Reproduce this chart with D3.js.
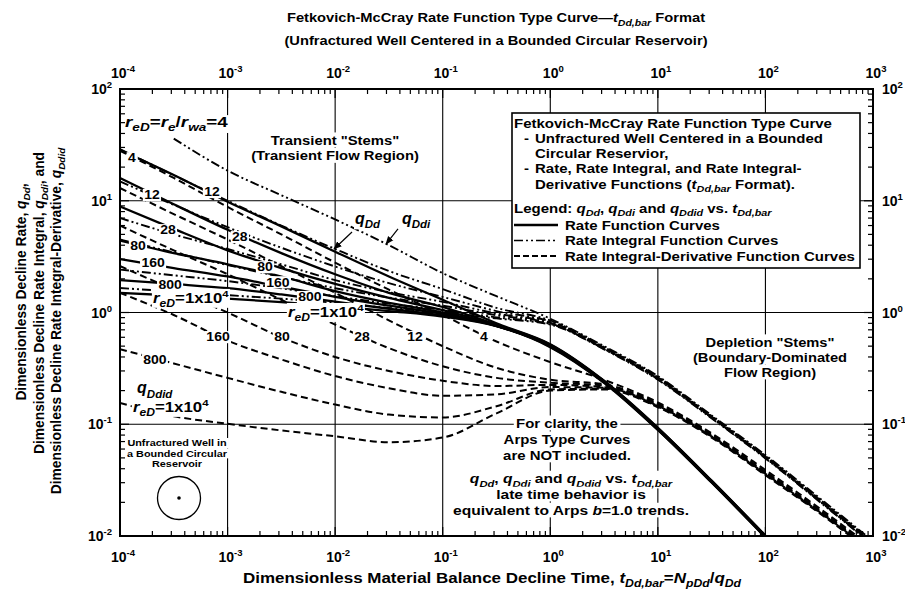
<!DOCTYPE html>
<html>
<head>
<meta charset="utf-8">
<script src="https://cdn.jsdelivr.net/npm/d3@7"></script>
<style>
  html, body { margin: 0; padding: 0; background: #fff; }
  svg { display: block; font-family: "Liberation Sans", Arial, Helvetica, sans-serif; font-weight: bold; }
</style>
</head>
<body>
<svg id="chart" width="905" height="595"></svg>
<script>
// Dimensionless material balance time grid, t_Dd,bar
const tGrid = [1e-4, 3.16e-4, 1e-3, 3.16e-3, 1e-2, 3.16e-2, 0.1, 0.316, 1, 3.16, 10, 31.6, 100, 316, 1000];

// Rate function q_Dd for reD = 4, 12, 28, 80, 160, 800, 1e4
const rate4   = [28.5, 17, 9.8, 5.9, 3.5, 2.1, 1.3, 0.80, 0.52, 0.245, 0.093, 0.0313, 0.0101];
const rate12  = [16, 9.3, 5.5, 3.4, 2.2, 1.5, 1.12, 0.78, 0.515, 0.243, 0.0923, 0.0311, 0.01];
const rate28  = [8.9, 5.6, 3.6, 2.5, 1.8, 1.35, 1.05, 0.77, 0.51, 0.242, 0.0916, 0.0309, 0.01];
const rate80  = [4.4, 3.4, 2.7, 2.1, 1.55, 1.22, 1.0, 0.76, 0.505, 0.24, 0.0909, 0.0307, 0.0099];
const rate160 = [3.0, 2.5, 2.1, 1.7, 1.38, 1.15, 0.97, 0.76, 0.5, 0.239, 0.0902, 0.0305, 0.0099];
const rate800 = [1.95, 1.8, 1.65, 1.45, 1.25, 1.08, 0.94, 0.76, 0.495, 0.237, 0.0895, 0.0303, 0.0098];
const rate1e4 = [1.5, 1.42, 1.33, 1.24, 1.14, 1.03, 0.92, 0.755, 0.49, 0.235, 0.089, 0.0301, 0.0097];

// Rate integral function q_Ddi
const integ4   = [null, 36, 18.6, 11.2, 6.8, 4.0, 2.25, 1.4, 0.88, 0.5, 0.27, 0.12, 0.053, 0.022, 0.009];
const integ12  = [29, 16.9, 10, 6.0, 3.7, 2.35, 1.62, 1.1, 0.85, 0.49, 0.265, 0.118, 0.052, 0.0215, 0.0088];
const integ28  = [14.9, 9.2, 5.8, 3.8, 2.58, 1.83, 1.38, 1.03, 0.83, 0.485, 0.262, 0.117, 0.0515, 0.0212, 0.0087];
const integ80  = [7.0, 5.0, 3.7, 2.7, 1.95, 1.52, 1.245, 0.98, 0.81, 0.48, 0.259, 0.116, 0.051, 0.021, 0.0086];
const integ160 = [4.5, 3.45, 2.66, 2.08, 1.65, 1.36, 1.15, 0.945, 0.8, 0.476, 0.256, 0.115, 0.0505, 0.0208, 0.0085];
const integ800 = [2.42, 2.15, 1.91, 1.645, 1.4, 1.2, 1.055, 0.905, 0.79, 0.472, 0.253, 0.114, 0.05, 0.0206, 0.0084];
const integ1e4 = [1.655, 1.54, 1.43, 1.33, 1.22, 1.1, 0.996, 0.885, 0.78, 0.468, 0.25, 0.113, 0.0495, 0.0204, 0.0083];

// Rate integral-derivative function q_Ddid
const deriv4   = [28, 16, 8.8, 5.0, 2.8, 1.6, 0.95, 0.55, 0.36, 0.25, 0.157, 0.083, 0.039, 0.0178, 0.0078];
const deriv12  = [13, 7.6, 4.5, 2.6, 1.5, 0.85, 0.5, 0.32, 0.25, 0.228, 0.153, 0.081, 0.0375, 0.0172, 0.0075];
const deriv28  = [6.0, 3.6, 2.2, 1.3, 0.78, 0.48, 0.33, 0.26, 0.235, 0.222, 0.15, 0.0795, 0.037, 0.0169, 0.0074];
const deriv80  = [2.6, 1.6, 1.0, 0.6, 0.4, 0.3, 0.245, 0.22, 0.225, 0.215, 0.148, 0.079, 0.0365, 0.0167, 0.0073];
const deriv160 = [1.5, 0.95, 0.56, 0.38, 0.27, 0.21, 0.18, 0.185, 0.215, 0.212, 0.146, 0.078, 0.036, 0.0165, 0.0072];
const deriv800 = [0.47, 0.35, 0.26, 0.195, 0.15, 0.122, 0.115, 0.145, 0.205, 0.208, 0.144, 0.077, 0.0355, 0.0163, 0.0071];
const deriv1e4 = [0.155, 0.118, 0.101, 0.088, 0.078, 0.069, 0.076, 0.125, 0.2, 0.205, 0.142, 0.076, 0.035, 0.0161, 0.007];

// Axis decades
const xDecades = [-4, -3, -2, -1, 0, 1, 2, 3];
const yDecades = [-2, -1, 0, 1, 2];

// Curve labels: [text, t, q]
const rateLabels  = [["4", 1.29e-4, 24.1], ["12", 1.98e-4, 11.3], ["28", 2.79e-4, 5.47],
                     ["80", 1.47e-4, 4.0], ["160", 2.03e-4, 2.77], ["800", 2.92e-4, 1.76]];
const integLabels = [["12", 7.16e-4, 12.0], ["28", 1.3e-3, 4.74], ["80", 2.23e-3, 2.55],
                     ["160", 2.94e-3, 1.87], ["800", 5.83e-3, 1.38]];
const derivLabels = [["160", 8.15e-4, 0.604], ["80", 3.2e-3, 0.604], ["28", 0.0178, 0.604],
                     ["12", 0.0552, 0.604], ["4", 0.242, 0.604], ["800", 2.11e-4, 0.376]];
// Left-anchored labels: [markup, t, q, size, stretch]
const startLabels = [
  ["*r*_{eD}=*r*_{e}/*r*_{wa}=4", 1.113e-4, 50.7, 14.5, 1.3],
  ["*r*_{eD}=1x10^{4}", 2.03e-4, 1.35, 14, 1.2],
  ["*r*_{eD}=1x10^{4}", 3.65e-3, 1.01, 14, 1.2],
  ["*r*_{eD}=1x10^{4}", 1.32e-4, 0.1427, 14, 1.2],
  ["*q*_{Ddid}", 1.44e-4, 0.215, 16, 1],
  ["*q*_{Dd}", 0.0153, 7.01, 16, 1],
  ["*q*_{Ddi}", 0.0418, 7.01, 16, 1]
];
// Pointer arrows: [t0, q0, t1, q1]
const arrows = [[0.01435, 5.25, 0.00976, 3.70], [0.0384, 5.59, 0.0297, 4.10]];

const M = { left: 120, right: 873, top: 89, bottom: 536 };
const x = d3.scaleLog().domain([1e-4, 1e3]).range([M.left, M.right]);
const y = d3.scaleLog().domain([1e-2, 1e2]).range([M.bottom, M.top]);
const svg = d3.select("#chart");

// Text with simple markup: _{sub} italic subscript, ^{sup} superscript, *italic*
function rich(sel, str, fs) {
  const re = /(_\{[^}]*\}|\^\{[^}]*\}|\*[^*]+\*)/g;
  const parts = str.split(re).filter(s => s !== "" && s !== undefined);
  let shift = 0;
  parts.forEach(p => {
    let txt = p, dy = 0, size = fs, italic = false;
    if (p.startsWith("_{")) { txt = p.slice(2, -1); size = fs * 0.72; italic = true; dy = fs * 0.3; }
    else if (p.startsWith("^{")) { txt = p.slice(2, -1); size = fs * 0.68; dy = -fs * 0.42; }
    else if (p.startsWith("*")) { txt = p.slice(1, -1); italic = true; }
    const ts = sel.append("tspan").text(txt).attr("font-size", size);
    if (italic) ts.attr("font-style", "italic");
    const d = dy - shift;
    if (d) ts.attr("dy", d.toFixed(2));
    shift = dy;
  });
  return sel;
}
// Places a (horizontally stretched) text inside its own group
function addText(parent, str, px, py, fs, anchor, sx) {
  const g = parent.append("g").attr("transform", `translate(${px},${py}) scale(${sx || 1},1)`);
  const t = g.append("text").attr("x", 0).attr("y", 0)
    .attr("font-size", fs).attr("text-anchor", anchor || "start");
  return rich(t, str, fs);
}
function withBg(textSel, padX, padY) {
  const node = textSel.node();
  const b = node.getBBox();
  d3.select(node.parentNode).insert("rect", () => node)
    .attr("x", b.x - padX).attr("y", b.y - padY)
    .attr("width", b.width + 2 * padX).attr("height", b.height + 2 * padY)
    .attr("fill", "#fff");
  return textSel;
}

// Titles
addText(svg, "Fetkovich-McCray Rate Function Type Curve\u2014*t*_{Dd,bar} Format", 496, 22, 13, "middle", 1.13);
addText(svg, "(Unfractured Well Centered in a Bounded Circular Reservoir)", 496, 45, 13, "middle", 1.13);

// Grid lines at decades
const grid = svg.append("g").attr("stroke", "#000").attr("stroke-width", 1.1);
xDecades.slice(1, -1).forEach(e => {
  const v = Math.pow(10, e);
  grid.append("line").attr("x1", x(v)).attr("x2", x(v)).attr("y1", M.top).attr("y2", M.bottom);
});
yDecades.slice(1, -1).forEach(e => {
  const v = Math.pow(10, e);
  grid.append("line").attr("y1", y(v)).attr("y2", y(v)).attr("x1", M.left).attr("x2", M.right);
});

// Curves
svg.append("clipPath").attr("id", "plotClip").append("rect")
  .attr("x", M.left).attr("y", M.top).attr("width", M.right - M.left).attr("height", M.bottom - M.top);
const curves = svg.append("g").attr("clip-path", "url(#plotClip)").attr("fill", "none").attr("stroke", "#000");
const line = d3.line().defined(d => d[1] != null).x(d => x(d[0])).y(d => y(d[1])).curve(d3.curveMonotoneX);
const families = [
  { dash: "7,4", width: 2.0, sets: [deriv4, deriv12, deriv28, deriv80, deriv160, deriv800, deriv1e4] },
  { dash: "9,3,2,3,2,3", width: 1.9, sets: [integ4, integ12, integ28, integ80, integ160, integ800, integ1e4] },
  { dash: null, width: 2.3, sets: [rate4, rate12, rate28, rate80, rate160, rate800, rate1e4] }
];
families.forEach(f => {
  f.sets.forEach(s => {
    const pts = s.map((v, i) => [tGrid[i], v]);
    const p = curves.append("path").attr("d", line(pts)).attr("stroke-width", f.width);
    if (f.dash) p.attr("stroke-dasharray", f.dash);
  });
});

// Arrows
const defs = svg.append("defs");
defs.append("marker").attr("id", "arrowHead").attr("viewBox", "0 0 10 10").attr("refX", 9).attr("refY", 5)
  .attr("markerWidth", 7).attr("markerHeight", 7).attr("orient", "auto")
  .append("path").attr("d", "M0,1 L10,5 L0,9 z").attr("fill", "#000");
arrows.forEach(a => {
  svg.append("line").attr("x1", x(a[0])).attr("y1", y(a[1])).attr("x2", x(a[2])).attr("y2", y(a[3]))
    .attr("stroke", "#000").attr("stroke-width", 1.2).attr("marker-end", "url(#arrowHead)");
});

// Curve labels
const labels = svg.append("g");
[rateLabels, integLabels, derivLabels].forEach(arr => {
  arr.forEach(l => {
    withBg(addText(labels, l[0], x(l[1]), y(l[2]) + 4.4, 12.5, "middle", 1.12), 1.2, -1);
  });
});
startLabels.forEach(l => {
  withBg(addText(labels, l[0], x(l[1]), y(l[2]) + l[3] * 0.35, l[3], "start", l[4]), 1, -1);
});

// Region annotations
function block(lines, cx, cy0, step, fs, sx, bg) {
  lines.forEach((s, i) => {
    const t = addText(svg, s, cx, cy0 + i * step + fs * 0.35, fs, "middle", sx);
    if (bg) withBg(t, 2, 0);
  });
}
block(["Transient \"Stems\"", "(Transient Flow Region)"], 335, 140, 15.5, 13, 1.14, true);
block(["Depletion \"Stems\"", "(Boundary-Dominated", "Flow Region)"], 770, 342, 15, 13, 1.13, true);
block(["For clarity, the", "Arps Type Curves", "are NOT included."], 567, 423, 16, 13, 1.15, true);
block(["*q*_{Dd}, *q*_{Ddi} and *q*_{Ddid} vs. *t*_{Dd,bar}", "late time behavior is",
       "equivalent to Arps *b*=1.0 trends."], 571, 478, 16, 13.2, 1.18, true);

// Inset sketch of the reservoir
block(["Unfractured Well in", "a Bounded Circular", "Reservoir"], 177, 443, 10.3, 9.2, 1.18, true);
svg.append("circle").attr("cx", 179).attr("cy", 498).attr("r", 21.5)
  .attr("fill", "none").attr("stroke", "#000").attr("stroke-width", 1.3);
svg.append("circle").attr("cx", 179).attr("cy", 498).attr("r", 1.8).attr("fill", "#000");

// Legend box
const lg = svg.append("g");
const LS = 1.2, LF = 12.5;
lg.append("rect").attr("x", 512).attr("y", 113).attr("width", 348).attr("height", 155)
  .attr("fill", "#fff").attr("stroke", "#000").attr("stroke-width", 1.6);
addText(lg, "Fetkovich-McCray Rate Function Type Curve", 514, 127.5, LF, "start", LS);
addText(lg, "-", 524, 143, LF, "start", LS);
addText(lg, "Unfractured Well Centered in a Bounded", 535, 143, LF, "start", LS);
addText(lg, "Circular Reservior,", 535, 158, LF, "start", LS);
addText(lg, "-", 524, 173, LF, "start", LS);
addText(lg, "Rate, Rate Integral, and Rate Integral-", 535, 173, LF, "start", LS);
addText(lg, "Derivative Functions (*t*_{Dd,bar} Format).", 535, 188.5, LF, "start", LS);
addText(lg, "Legend: *q*_{Dd}, *q*_{Ddi} and *q*_{Ddid} vs. *t*_{Dd,bar}", 514, 212.5, LF, "start", LS);
const legendRows = [
  ["Rate Function Curves", null, 2.4],
  ["Rate Integral Function Curves", "9,3,2,3,2,3", 1.7],
  ["Rate Integral-Derivative Function Curves", "6,3", 1.9]
];
legendRows.forEach((r, i) => {
  const cy = 225 + i * 15.5;
  const l = lg.append("line").attr("x1", 514).attr("x2", 558).attr("y1", cy).attr("y2", cy)
    .attr("stroke", "#000").attr("stroke-width", r[2]);
  if (r[1]) l.attr("stroke-dasharray", r[1]);
  addText(lg, r[0], 565, cy + 4.5, LF, "start", LS);
});

// Frame and ticks
svg.append("rect").attr("x", M.left).attr("y", M.top).attr("width", M.right - M.left)
  .attr("height", M.bottom - M.top).attr("fill", "none").attr("stroke", "#000").attr("stroke-width", 2);
const ticks = svg.append("g").attr("stroke", "#000").attr("stroke-width", 1.2);
xDecades.forEach(e => {
  for (let m = 1; m <= 9; m++) {
    const v = m * Math.pow(10, e);
    if (v > 1e3) break;
    const len = m === 1 ? 9 : 5;
    ticks.append("line").attr("x1", x(v)).attr("x2", x(v)).attr("y1", M.top).attr("y2", M.top + len);
    ticks.append("line").attr("x1", x(v)).attr("x2", x(v)).attr("y1", M.bottom).attr("y2", M.bottom - len);
  }
});
yDecades.forEach(e => {
  for (let m = 1; m <= 9; m++) {
    const v = m * Math.pow(10, e);
    if (v > 1e2) break;
    const len = m === 1 ? 9 : 5;
    ticks.append("line").attr("y1", y(v)).attr("y2", y(v)).attr("x1", M.left).attr("x2", M.left + len);
    ticks.append("line").attr("y1", y(v)).attr("y2", y(v)).attr("x1", M.right).attr("x2", M.right - len);
  }
});

// Tick labels
xDecades.forEach(e => {
  const v = Math.pow(10, e);
  addText(svg, "10^{" + e + "}", x(v) + 3, 78, 14, "middle");
  addText(svg, "10^{" + e + "}", x(v) + 3, 562, 14, "middle");
});
yDecades.forEach(e => {
  const v = Math.pow(10, e);
  addText(svg, "10^{" + e + "}", 112, y(v) + 5, 14, "end");
  addText(svg, "10^{" + e + "}", 882, y(v) + 5, 14, "start");
});

// Axis titles
addText(svg, "Dimensionless Material Balance Decline Time, *t*_{Dd,bar}=*N*_{pDd}/*q*_{Dd}", 492, 583, 14.5, "middle", 1.17);
const yTitles = [
  ["Dimensionless Decline Rate, *q*_{Dd},", 21, 292],
  ["Dimensionless Decline Rate Integral, *q*_{Ddi}, and", 38.5, 303],
  ["Dimensionless Decline Rate Integral-Derivative, *q*_{Ddid}", 56, 321]
];
yTitles.forEach(s => {
  const g = svg.append("g").attr("transform", `translate(${s[1]},${s[2]}) rotate(-90)`);
  addText(g, s[0], 0, 5, 13.8, "middle");
});
</script>
</body>
</html>
